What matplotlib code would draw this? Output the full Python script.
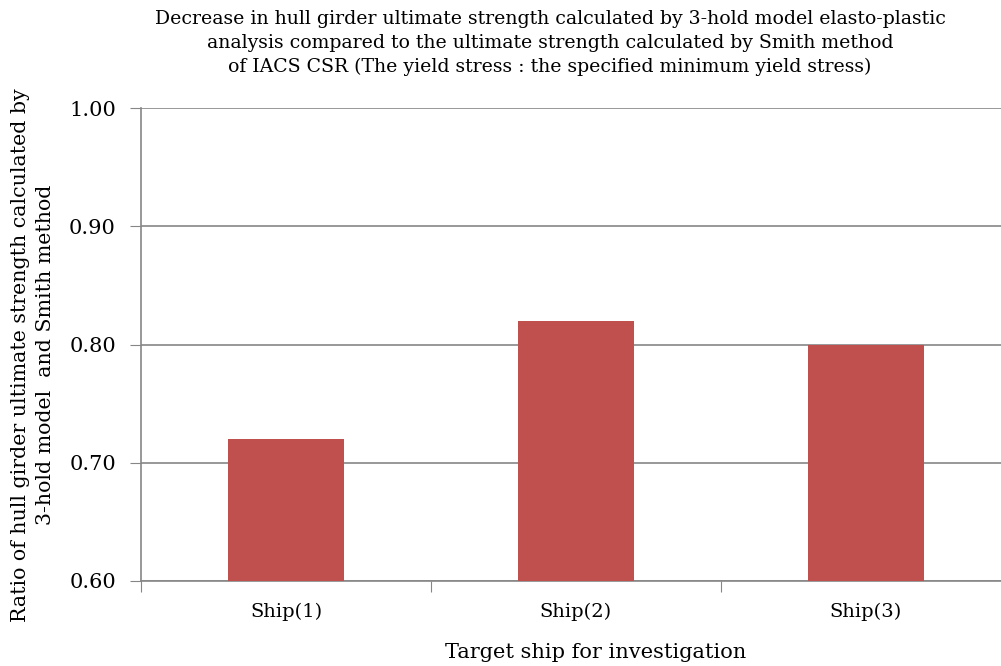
import matplotlib.pyplot as plt

# ratio of 3-hold model ultimate strength to Smith method result
ships = ['Ship(1)', 'Ship(2)', 'Ship(3)']
ratios = [0.72, 0.82, 0.80]
yticks = [0.60, 0.70, 0.80, 0.90, 1.00]

plt.rcParams['font.family'] = ['DejaVu Serif']

W, H = 1001, 666
fig = plt.figure(figsize=(W / 100, H / 100), dpi=100)
ax = fig.add_axes([141 / W, 1 - 581 / H, (W - 141) / W, (581 - 108) / H])

x = range(len(ships))
ax.bar(x, ratios, width=0.4, color='#c0504d', zorder=3)

ax.set_ylim(0.60, 1.00)
ax.set_yticks(yticks)
ax.set_yticklabels([f'{v:.2f}' for v in yticks], fontsize=15)
ax.set_xlim(-0.5, 2.466)
ax.set_xticks([-0.5, 0.5, 1.5])
ax.set_xticklabels([])
ax.set_xticks(list(x), minor=True)
ax.set_xticklabels(ships, minor=True, fontsize=14)
ax.tick_params(axis='x', which='minor', length=0, pad=16)
ax.tick_params(axis='x', which='major', length=8, color='#868686', direction='out')
ax.tick_params(axis='y', length=8, color='#868686', direction='out', pad=10)

ax.grid(axis='y', color='#868686', linewidth=1.2, zorder=0)
for side in ['top', 'right']:
    ax.spines[side].set_visible(False)
for side in ['left', 'bottom']:
    ax.spines[side].set_color('#868686')
    ax.spines[side].set_linewidth(1.2)

fig.text(550 / W, 1 - 43 / H,
         'Decrease in hull girder ultimate strength calculated by 3-hold model elasto-plastic\n'
         'analysis compared to the ultimate strength calculated by Smith method\n'
         'of IACS CSR (The yield stress : the specified minimum yield stress)',
         ha='center', va='center', fontsize=13.6, linespacing=1.45)

fig.text(33 / W, 1 - 355 / H,
         'Ratio of hull girder ultimate strength calculated by\n3-hold model  and Smith method',
         rotation=90, ha='center', va='center', fontsize=14.8, linespacing=1.35)

fig.text(596 / W, 1 - 653 / H, 'Target ship for investigation',
         ha='center', va='center', fontsize=15)

fig.savefig('out.png', dpi=100)
